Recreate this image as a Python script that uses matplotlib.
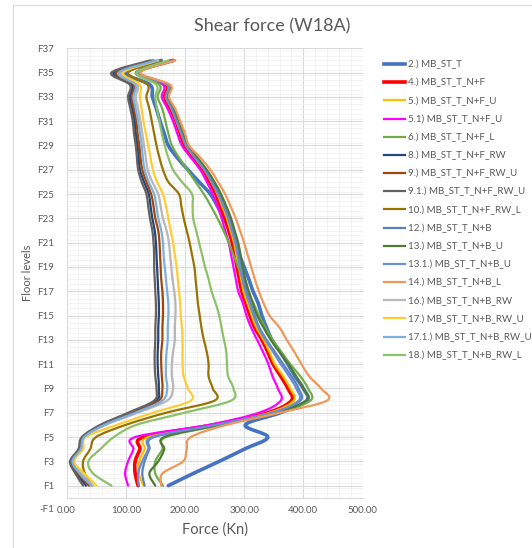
"""
Shear force envelopes per floor for wall W18A.
"""

import numpy as np
import matplotlib
matplotlib.use('Agg')
from matplotlib import pyplot
from matplotlib.path import Path
from matplotlib.patches import PathPatch, Rectangle
from matplotlib.lines import Line2D

OUTPUT_FILE = 'out.png'
FIG_W_PX, FIG_H_PX = 532, 548
PLOT_DOTS_PER_INCH = 100
TEXT_GREY = '#595959'
GRID_MAJOR = '#d9d9d9'
GRID_MINOR = '#efefef'

pyplot.rcParams['font.family'] = ['Lato', 'DejaVu Sans']

FLOORS = list(range(1, 37))

LABELS = [
    '2.) MB_ST_T', '4.) MB_ST_T_N+F', '5.) MB_ST_T_N+F_U', '5.1) MB_ST_T_N+F_U',
    '6.) MB_ST_T_N+F_L', '8.) MB_ST_T_N+F_RW', '9.) MB_ST_T_N+F_RW_U',
    '9.1.) MB_ST_T_N+F_RW_U', '10.) MB_ST_T_N+F_RW_L', '12.) MB_ST_T_N+B',
    '13.) MB_ST_T_N+B_U', '13.1.) MB_ST_T_N+B_U', '14.) MB_ST_T_N+B_L',
    '16.) MB_ST_T_N+B_RW', '17.) MB_ST_T_N+B_RW_U', '17.1.) MB_ST_T_N+B_RW_U',
    '18.) MB_ST_T_N+B_RW_L',
]

COLORS = [
    '#4472C4', '#FF0000', '#FFC000', '#FF00FF', '#70AD47', '#264478', '#9E480E',
    '#636363', '#997300', '#5A80BE', '#4E7A32', '#698ED0', '#F1975A', '#B7B7B7',
    '#FFCD33', '#7CAFDD', '#8CC168',
]

THICK = ['2.) MB_ST_T', '4.) MB_ST_T_N+F']

# shear force (kN) at floors F1..F36
s02 = [172, 214, 258, 300, 340, 302, 361, 406, 400, 386, 374, 361, 347, 338, 330, 324, 315, 308,
       300, 292, 284, 275, 266, 255, 243, 224, 205, 187, 172, 165, 158, 152, 145, 141, 100, 160]
s04 = [121, 116, 116, 124, 130, 248, 340, 380, 374, 362, 349, 340, 330, 318, 310, 303, 296, 292,
       288, 284, 280, 274, 268, 260, 252, 242, 231, 215, 200, 192, 185, 176, 166, 168, 120, 180]
s05 = [130, 122, 123, 132, 138, 250, 343, 384, 378, 366, 352, 343, 333, 321, 313, 306, 299, 295,
       291, 287, 283, 277, 271, 263, 255, 245, 233, 217, 202, 194, 186, 178, 168, 170, 121, 181]
s051 = [104, 99, 104, 113, 116, 240, 325, 362, 357, 348, 341, 332, 322, 312, 304, 298, 290, 286,
        282, 278, 274, 268, 262, 255, 247, 237, 226, 210, 195, 187, 180, 171, 161, 163, 118, 176]
s06 = [163, 150, 150, 162, 168, 262, 357, 412, 408, 395, 378, 363, 348, 336, 325, 316, 306, 298,
       290, 282, 274, 265, 255, 244, 232, 218, 204, 190, 178, 172, 167, 162, 154, 157, 117, 175]
s08 = [33, 18, 8, 22, 28, 60, 108, 152, 156, 155, 154, 154, 155, 155, 156, 156, 155, 154,
       153, 152, 151, 149, 145, 142, 139, 131, 124, 122, 120, 117, 115, 111, 107, 110, 80, 145]
s09 = [38, 20, 9, 23, 29, 62, 112, 156, 162, 161, 160, 160, 162, 162, 163, 163, 162, 160,
       159, 158, 157, 155, 150, 147, 143, 135, 128, 125, 123, 120, 118, 114, 110, 113, 84, 148]
s091 = [28, 15, 6, 20, 26, 57, 104, 148, 152, 150, 149, 149, 150, 150, 151, 151, 150, 149,
        148, 148, 147, 145, 141, 138, 135, 127, 121, 119, 117, 114, 112, 108, 104, 107, 76, 141]
s10 = [43, 31, 28, 40, 50, 100, 168, 250, 247, 240, 240, 237, 232, 228, 225, 222, 220, 218,
       216, 212, 208, 203, 198, 194, 190, 172, 163, 157, 152, 148, 144, 140, 135, 137, 104, 158]
s12 = [132, 128, 132, 140, 148, 255, 350, 395, 392, 380, 366, 352, 338, 326, 318, 311, 304, 299,
       295, 291, 287, 281, 275, 267, 258, 247, 235, 219, 203, 195, 187, 179, 169, 171, 122, 182]
s13 = [150, 140, 155, 165, 165, 258, 353, 405, 400, 388, 375, 360, 345, 333, 322, 315, 308, 302,
       298, 294, 290, 284, 278, 270, 261, 250, 237, 221, 205, 197, 189, 181, 170, 172, 123, 183]
s131 = [122, 121, 128, 138, 145, 252, 347, 392, 388, 376, 362, 349, 336, 324, 316, 309, 302, 297,
        293, 289, 285, 279, 273, 265, 256, 245, 233, 217, 202, 194, 186, 178, 168, 170, 121, 181]
s14 = [160, 162, 197, 203, 210, 270, 360, 440, 430, 410, 397, 385, 372, 360, 343, 333, 325, 318,
       312, 306, 300, 293, 286, 277, 268, 256, 243, 226, 207, 200, 192, 184, 173, 175, 125, 184]
s16 = [45, 25, 12, 25, 31, 66, 120, 170, 180, 178, 178, 180, 183, 183, 184, 184, 182, 179,
       177, 175, 173, 169, 163, 159, 155, 145, 137, 134, 131, 128, 125, 121, 117, 120, 92, 155]
s17 = [51, 30, 13, 28, 33, 85, 146, 210, 205, 198, 196, 196, 196, 195, 193, 192, 190, 188,
       186, 183, 180, 176, 172, 168, 163, 153, 146, 142, 138, 134, 130, 127, 124, 124, 96, 153]
s171 = [42, 22, 10, 24, 30, 64, 116, 162, 170, 168, 168, 169, 171, 171, 172, 172, 170, 168,
        166, 164, 163, 160, 155, 152, 148, 139, 132, 129, 127, 124, 121, 117, 113, 116, 88, 152]
s18 = [76, 45, 37, 57, 80, 118, 199, 278, 282, 273, 271, 270, 266, 262, 258, 252, 245, 240,
       234, 229, 224, 219, 214, 213, 212, 195, 180, 172, 166, 161, 157, 153, 150, 152, 119, 172]

SERIES = [s02, s04, s05, s051, s06, s08, s09, s091, s10, s12, s13, s131, s14, s16, s17, s171, s18]


def smooth_path(xs: list, ys: list) -> Path:
    # excel-style smoothed line: cubic bezier through every data point
    pts = np.column_stack([xs, ys]).astype(float)
    n = len(pts)
    verts = [pts[0]]
    codes = [Path.MOVETO]
    for i in range(n - 1):
        p0 = pts[max(i - 1, 0)]
        p1 = pts[i]
        p2 = pts[i + 1]
        p3 = pts[min(i + 2, n - 1)]
        verts += [p1 + (p2 - p0) / 6, p2 - (p3 - p1) / 6, p2]
        codes += [Path.CURVE4] * 3
    return Path(verts, codes)


def main() -> None:
    figure = pyplot.figure(figsize=(FIG_W_PX / PLOT_DOTS_PER_INCH, FIG_H_PX / PLOT_DOTS_PER_INCH),
                           dpi=PLOT_DOTS_PER_INCH)
    figure.patches.append(Rectangle((12.5 / FIG_W_PX, -0.01), 1.0, 1 - 4.5 / FIG_H_PX + 0.01,
                                    transform=figure.transFigure, fill=False,
                                    edgecolor=GRID_MAJOR, lw=0.8))

    left, top, right, bottom = 66.5, 48.3, 362.5, 497.8
    ax = figure.add_axes([left / FIG_W_PX, 1 - bottom / FIG_H_PX,
                          (right - left) / FIG_W_PX, (bottom - top) / FIG_H_PX])

    ax.set_xlim(0, 500)
    ax.set_ylim(0, 37)
    ax.set_xticks(np.arange(0, 501, 100))
    ax.set_xticks(np.arange(0, 501, 20), minor=True)
    ax.set_yticks(np.arange(1, 38, 2))
    ax.set_yticks(np.arange(0, 37.01, 0.4), minor=True)
    ax.set_xticklabels(['%.2f' % v for v in np.arange(0, 501, 100)])
    ax.set_yticklabels(['F%d' % v for v in np.arange(1, 38, 2)])
    ax.tick_params(which='both', length=0)
    ax.tick_params(axis='y', pad=9, labelsize=7, labelcolor=TEXT_GREY)
    ax.tick_params(axis='x', pad=6, labelsize=7, labelcolor=TEXT_GREY)
    ax.grid(which='minor', color=GRID_MINOR, lw=0.5)
    ax.grid(which='major', color=GRID_MAJOR, lw=0.8)
    ax.set_axisbelow(True)
    for side in ['top', 'right', 'left']:
        ax.spines[side].set_visible(False)
    ax.spines['bottom'].set_color(GRID_MAJOR)
    ax.spines['bottom'].set_linewidth(0.8)

    # the excel category axis also shows a "-F1" label below the floor scale
    ax.annotate('-F1', xy=(0, -1), xycoords=('axes fraction', 'data'),
                xytext=(-9, 0), textcoords='offset points', ha='right', va='center',
                fontsize=7, color=TEXT_GREY, annotation_clip=False)

    handles = []
    for label, color, values in zip(LABELS, COLORS, SERIES):
        lw = 2.6 if label in THICK else 1.6
        ax.add_patch(PathPatch(smooth_path(values, FLOORS), fill=False, edgecolor=color,
                               lw=lw, capstyle='round', joinstyle='round'))
        handles.append(Line2D([], [], color=color, lw=lw))

    ax.set_xlabel('Force (Kn)', fontsize=10.5, color=TEXT_GREY, labelpad=5)
    ax.set_ylabel('Floor levels', fontsize=8, color=TEXT_GREY)
    ax.yaxis.set_label_coords((33 - left) / (right - left), 0.5)

    figure.text(272 / FIG_W_PX, 1 - 26 / FIG_H_PX, 'Shear force (W18A)', ha='center',
                va='center', fontsize=13, color=TEXT_GREY)

    figure.legend(handles, LABELS, loc='upper left',
                  bbox_to_anchor=(384 / FIG_W_PX, 1 - 60 / FIG_H_PX),
                  frameon=False, fontsize=7, labelcolor=TEXT_GREY, borderpad=0,
                  borderaxespad=0, handlelength=2.2, handletextpad=0.3, labelspacing=0.9)

    figure.savefig(OUTPUT_FILE, dpi=PLOT_DOTS_PER_INCH)


if __name__ == '__main__':
    main()
